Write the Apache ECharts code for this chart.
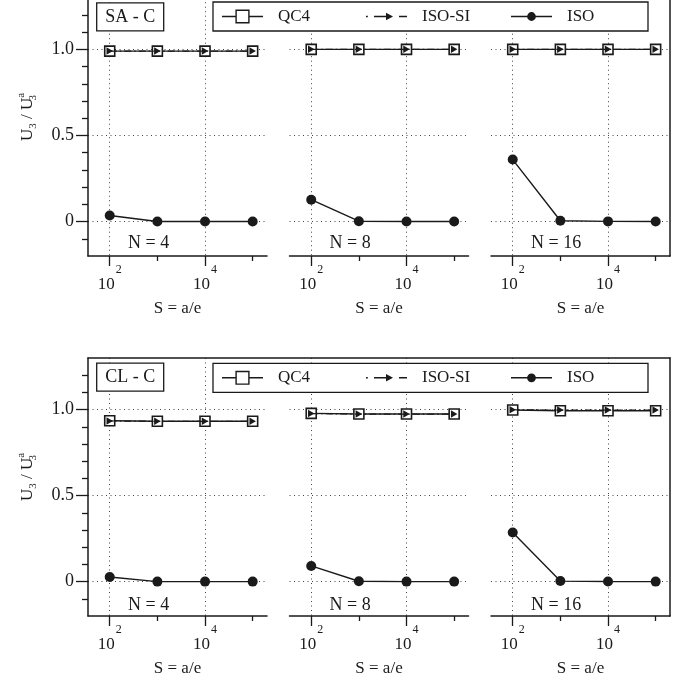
<!DOCTYPE html>
<html><head><meta charset="utf-8">
<script src="https://cdn.jsdelivr.net/npm/echarts@6/dist/echarts.min.js"></script>
<style>html,body{margin:0;padding:0;background:#fff}#c{width:686px;height:682px}</style>
</head><body><div id="c"></div>
<script>
// ---------- data ----------
const sValues = [100, 1000, 10000, 100000];
const nValues = [4, 8, 16];
const rowLabels = ['SA - C', 'CL - C'];
const seriesNames = ['QC4', 'ISO-SI', 'ISO'];
const xMajorTicks = [100, 10000];
const xMinorTicks = [1000, 100000];
const yMajorTicks = [0, 0.5, 1.0];
const yMinorTicks = [-0.1, 0.1, 0.2, 0.3, 0.4, 0.6, 0.7, 0.8, 0.9, 1.1, 1.2];

// SA - C row: one list per N = 4, 8, 16
const qc4SA   = [[0.99, 0.99, 0.99, 0.99], [1.0, 1.0, 1.0, 1.0], [1.0, 1.0, 1.0, 1.0]];
const isoSiSA = [[0.99, 0.99, 0.99, 0.99], [1.0, 1.0, 1.0, 1.0], [1.0, 1.0, 1.0, 1.0]];
const isoSA   = [[0.035, 0, 0, 0], [0.127, 0.002, 0, 0], [0.36, 0.005, 0.001, 0]];
// CL - C row
const qc4CL   = [[0.935, 0.932, 0.932, 0.932], [0.978, 0.974, 0.974, 0.974], [0.998, 0.993, 0.993, 0.993]];
const isoSiCL = [[0.934, 0.932, 0.932, 0.932], [0.977, 0.974, 0.974, 0.974], [0.999, 0.997, 0.997, 0.997]];
const isoCL   = [[0.027, 0, 0, 0], [0.091, 0.002, 0, 0], [0.285, 0.003, 0.001, 0]];

const rowData = [[qc4SA, isoSiSA, isoSA], [qc4CL, isoSiCL, isoCL]];

// ---------- layout / style ----------
const FONT = 'Liberation Serif';
const INK = '#1a1a1a';
const rowTop = [-2.3, 358];
const rowBottom = [256, 616];
const frameLeft = 88, frameRight = 670;
const panelLeft = [88, 289.5, 491];
const panelWidth = 179;
const dotted = { color: '#444', width: 1, type: [1, 3.5] };
const axisLineStyle = { color: INK, width: 1.5 };

const grids = [], xAxes = [], yAxes = [], series = [], titles = [], legends = [];

const legendIcons = [
  'path://M0,6.3H13.4V7.7H0Z M27.6,6.3H41V7.7H27.6Z M13.4,0H27.6V14H13.4Z M14.8,1.4V12.6H26.2V1.4Z',
  'path://M0,6.3H1.8V7.7H0Z M8,6.3H21V7.7H8Z M20,3.2L27,7L20,10.8Z M33,6.3H41V7.7H33Z M0,0H0.01V0.01H0Z M40.99,13.99H41V14H40.99Z',
  'path://M0,6.3H17V7.7H0Z M24,6.3H41V7.7H24Z M16.1,7A4.4,4.4,0,1,1,24.9,7A4.4,4.4,0,1,1,16.1,7Z M0,0H0.01V0.01H0Z M40.99,13.99H41V14H40.99Z'
];
const legendTextWidths = [88, 89, 73];

for (let r = 0; r < 2; r++) {
  const top = rowTop[r], h = rowBottom[r] - rowTop[r];
  // frame grid
  const fg = grids.length;
  grids.push({ left: frameLeft, top: top, width: frameRight - frameLeft, height: h, outerBoundsMode: 'none', containLabel: false });
  xAxes.push({ gridIndex: fg, type: 'value', position: 'top', min: 0, max: 1,
    axisLine: { show: true, onZero: false, lineStyle: axisLineStyle }, axisTick: { show: false }, axisLabel: { show: false }, splitLine: { show: false } });
  yAxes.push({ gridIndex: fg, type: 'value', position: 'left', min: -0.2, max: 1.3,
    axisLine: { show: true, onZero: false, lineStyle: axisLineStyle },
    axisTick: { show: true, length: 12, customValues: yMajorTicks, lineStyle: { color: INK, width: 1.3 } },
    axisLabel: { show: true, customValues: yMajorTicks, margin: 14, color: INK, fontFamily: FONT, fontSize: 18,
      formatter: v => (v === 0 ? '0' : v.toFixed(1)) },
    splitLine: { show: false },
    name: '{n|U}{sub|3}{n| / U}{sub0|3}{sup|a}', nameLocation: 'middle', nameGap: 52, nameRotate: 90,
    nameTextStyle: { color: INK, fontFamily: FONT, fontSize: 17, padding: [0, 0, 0, 20],
      rich: {
        n: { fontFamily: FONT, fontSize: 17, lineHeight: 17, padding: [3, 0, 3, 0], color: INK },
        sub: { fontFamily: FONT, fontSize: 11, lineHeight: 11, padding: [12, 0, 0, 0], color: INK },
        sub0: { fontFamily: FONT, fontSize: 11, lineHeight: 11, width: 0, padding: [12, 0, 0, 0], color: INK },
        sup: { fontFamily: FONT, fontSize: 11, lineHeight: 11, padding: [0, 0, 12, 0], color: INK }
      } } });
  yAxes.push({ gridIndex: fg, type: 'value', position: 'left', min: -0.2, max: 1.3,
    axisLine: { show: false, onZero: false },
    axisTick: { show: true, length: 6, customValues: yMinorTicks, lineStyle: { color: INK, width: 1.3 } },
    axisLabel: { show: false }, splitLine: { show: false } });
  yAxes.push({ gridIndex: fg, type: 'value', position: 'right', min: -0.2, max: 1.3,
    axisLine: { show: true, onZero: false, lineStyle: axisLineStyle }, axisTick: { show: false }, axisLabel: { show: false }, splitLine: { show: false } });

  // panels
  for (let p = 0; p < 3; p++) {
    const g = grids.length;
    grids.push({ left: panelLeft[p], top: top, width: panelWidth, height: h, outerBoundsMode: 'none', containLabel: false });
    const xi = xAxes.length;
    xAxes.push({ gridIndex: g, type: 'log', logBase: 10, min: 35, max: 200000, position: 'bottom',
      axisLine: { show: true, onZero: false, lineStyle: axisLineStyle },
      axisTick: { show: true, length: 10, customValues: xMajorTicks, lineStyle: { color: INK, width: 1.3 } },
      axisLabel: { show: true, customValues: xMajorTicks, margin: 14, color: INK,
        formatter: v => '{b|10}{s|' + Math.round(Math.log10(v)) + '}',
        rich: {
          b: { fontFamily: FONT, fontSize: 17, lineHeight: 17, padding: [12, 0, 0, 0], color: INK },
          s: { fontFamily: FONT, fontSize: 12, lineHeight: 12, padding: [0, 0, 17, 1], color: INK }
        } },
      splitLine: { show: true, lineStyle: dotted },
      name: 'S = a/e', nameLocation: 'middle', nameGap: 44,
      nameTextStyle: { color: INK, fontFamily: FONT, fontSize: 17, lineHeight: 17 } });
    xAxes.push({ gridIndex: g, type: 'log', logBase: 10, min: 35, max: 200000, position: 'bottom',
      axisLine: { show: false, onZero: false },
      axisTick: { show: true, length: 5, customValues: xMinorTicks, lineStyle: { color: INK, width: 1.3 } },
      axisLabel: { show: false }, splitLine: { show: false } });
    const yi = yAxes.length;
    yAxes.push({ gridIndex: g, type: 'value', min: -0.2, max: 1.3,
      axisLine: { show: false, onZero: false }, axisTick: { show: false, customValues: yMajorTicks }, axisLabel: { show: false },
      splitLine: { show: true, lineStyle: dotted } });

    const [qc4, isoSi, iso] = rowData[r];
    series.push({ name: seriesNames[0], type: 'line', xAxisIndex: xi, yAxisIndex: yi, z: 3,
      data: sValues.map((s, i) => [s, qc4[p][i]]),
      symbol: 'rect', symbolSize: 10,
      itemStyle: { color: '#fff', borderColor: INK, borderWidth: 1.6 },
      lineStyle: { color: INK, width: 1.4 } });
    series.push({ name: seriesNames[1], type: 'line', xAxisIndex: xi, yAxisIndex: yi, z: 4,
      data: sValues.map((s, i) => [s, isoSi[p][i]]),
      symbol: 'path://M0,0L10,5L0,10Z', symbolSize: [6.5, 7.5],
      itemStyle: { color: INK, borderWidth: 0 },
      lineStyle: { color: INK, width: 1.2, type: [7, 3, 1.5, 3] } });
    series.push({ name: seriesNames[2], type: 'line', xAxisIndex: xi, yAxisIndex: yi, z: 5,
      data: sValues.map((s, i) => [s, iso[p][i]]),
      symbol: 'circle', symbolSize: 10,
      itemStyle: { color: INK, borderWidth: 0 },
      lineStyle: { color: INK, width: 1.4 } });

    titles.push({ text: 'N = ' + nValues[p], left: panelLeft[p] + 40, top: r === 0 ? 234.5 : 596.2, padding: 0,
      textStyle: { fontFamily: FONT, fontSize: 18, fontWeight: 'normal', lineHeight: 18, color: INK } });
  }

  titles.push({ text: rowLabels[r], left: 96.7, top: r === 0 ? 3 : 363.3, padding: [5.3, 8.5],
    borderWidth: 1.3, borderColor: INK, backgroundColor: '#fff', z: 10,
    textStyle: { fontFamily: FONT, fontSize: 18, fontWeight: 'normal', lineHeight: 17, color: INK } });

  legends.push({ left: 213, top: r === 0 ? 2 : 363.3, orient: 'horizontal', padding: [6, 8, 6, 9],
    itemWidth: 41, itemHeight: 14, itemGap: 0, selectedMode: false, z: 10,
    borderColor: INK, borderWidth: 1.3, backgroundColor: '#fff', borderRadius: 0,
    itemStyle: { color: INK, borderWidth: 0 },
    textStyle: { fontFamily: FONT, fontSize: 17, color: INK, lineHeight: 14 },
    data: seriesNames.map((n, i) => ({ name: n, icon: legendIcons[i],
      textStyle: { width: legendTextWidths[i], padding: [0, 0, 0, 10] } })) });
}

const chart = echarts.init(document.getElementById('c'), null, { renderer: 'canvas' });
chart.setOption({
  animation: false,
  backgroundColor: '#fff',
  textStyle: { fontFamily: FONT },
  title: titles,
  legend: legends,
  grid: grids,
  xAxis: xAxes,
  yAxis: yAxes,
  series: series
});
</script>
</body></html>
